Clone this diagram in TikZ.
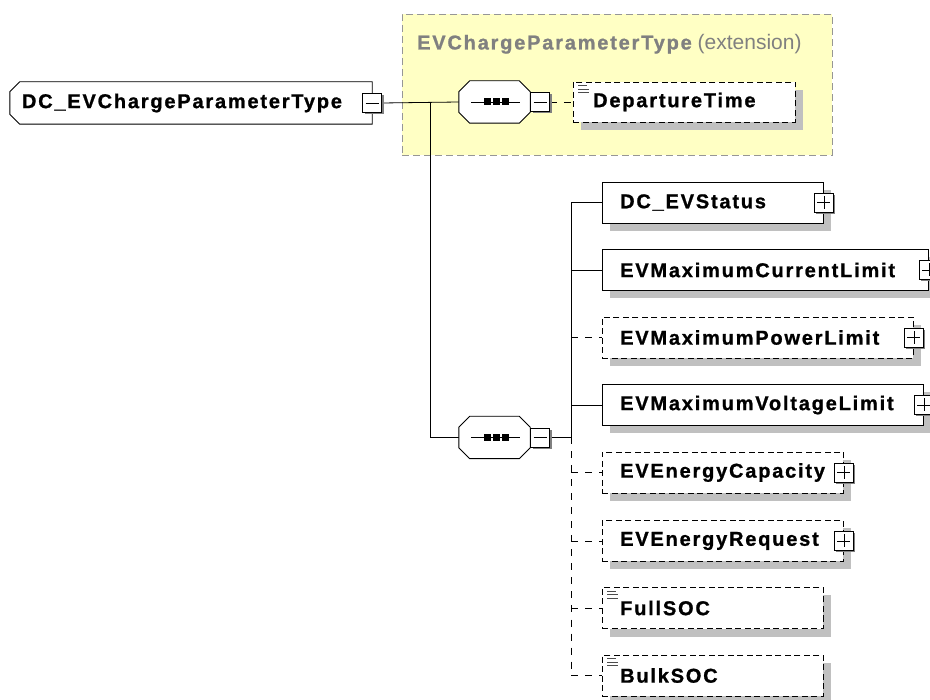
\documentclass[tikz,border=0pt]{standalone}
\usepackage{fontspec}
\setmainfont{Liberation Sans}
\newfontfamily\xsfont[LetterSpace=9, BoldFeatures={FakeBold=1}]{Liberation Sans}
\usetikzlibrary{shadows,calc}
\definecolor{shad}{RGB}{192,192,192}
\definecolor{extfill}{RGB}{255,255,196}
\definecolor{extdraw}{RGB}{150,150,150}
\definecolor{titlegray}{RGB}{128,128,128}
\pgfdeclarelayer{bg}
\pgfdeclarelayer{mid}
\pgfsetlayers{bg,mid,main}
\tikzset{
  shadowed/.style={drop shadow={shadow xshift=8pt, shadow yshift=-8pt, fill=shad, opacity=1}},
  elem/.style={draw, line width=0.9pt, fill=white, rectangle, minimum height=41pt, inner sep=0pt, anchor=west, shadowed},
  optelem/.style={elem, dash pattern=on 6pt off 3.5pt},
  pmbox/.style={draw, line width=0.7pt, fill=white, minimum size=19pt, inner sep=0pt,
     drop shadow={shadow xshift=2pt, shadow yshift=-2pt, fill=gray, opacity=1}},
  minusbox/.style={pmbox, path picture={\draw[line width=0.6pt] ([xshift=3pt]path picture bounding box.west) -- ([xshift=-3pt]path picture bounding box.east);}},
  plusbox/.style={pmbox, path picture={\draw[line width=0.6pt] ([xshift=3pt]path picture bounding box.west) -- ([xshift=-3pt]path picture bounding box.east);
     \draw[line width=0.6pt] ([yshift=-3pt]path picture bounding box.north) -- ([yshift=3pt]path picture bounding box.south);}},
  lbl/.style={font=\xsfont\bfseries\fontsize{20}{24}\selectfont, inner sep=0pt, anchor=west},
  anchorbox/.style={rectangle, draw=none, inner sep=0pt},
  outline/.style={draw, line width=0.9pt, fill=white},
  conn/.style={line width=0.8pt},
  optconn/.style={line width=0.8pt, dash pattern=on 7pt off 7pt},
}
\begin{document}
\begin{tikzpicture}[x=1pt,y=-1pt]
\useasboundingbox (0,0) rectangle (930,700);
\begin{pgfonlayer}{bg}
\fill[white] (0,0) rectangle (930,700);
\node[draw=extdraw, dash pattern=on 7pt off 4pt, line width=0.8pt, fill=extfill, minimum width=430pt, minimum height=141pt, inner sep=0pt] (ext) at (617,84.5) {};
\end{pgfonlayer}
\node[anchor=west, inner sep=0pt, text=titlegray] (title) at (417,44) {{\xsfont\bfseries\fontsize{20}{24}\selectfont EVChargeParameterType}{\fontsize{21}{25}\selectfont\ (extension)}};

% root (chamfered on the left)
\node[anchorbox, minimum width=362pt, minimum height=42pt] (root) at (191,103) {};
\fill[shad, shift={(8,8)}] ([xshift=10pt]root.north west) -- (root.north east) -- (root.south east) -- ([xshift=10pt]root.south west) -- ([yshift=10pt]root.south west) -- ([yshift=-10pt]root.north west) -- cycle;
\path[outline] ([xshift=10pt]root.north west) -- (root.north east) -- (root.south east) -- ([xshift=10pt]root.south west) -- ([yshift=10pt]root.south west) -- ([yshift=-10pt]root.north west) -- cycle;
\node[lbl] (roottxt) at ([xshift=12pt]root.west) {DC\_EVChargeParameterType};
\node[minusbox] (rootpm) at (root.east) {};

% sequences (octagons)
\node[anchorbox, minimum width=71pt, minimum height=42pt] (seq1) at (494.5,102) {};
\node[anchorbox, minimum width=71pt, minimum height=42pt] (seq2) at (494.5,437.5) {};
\foreach \s in {seq1,seq2}{
  \fill[shad, shift={(8,8)}] ([xshift=11pt]\s.north west) -- ([xshift=-11pt]\s.north east) -- ([yshift=-11pt]\s.north east) -- ([yshift=11pt]\s.south east) -- ([xshift=-11pt]\s.south east) -- ([xshift=11pt]\s.south west) -- ([yshift=11pt]\s.south west) -- ([yshift=-11pt]\s.north west) -- cycle;
  \path[outline] ([xshift=11pt]\s.north west) -- ([xshift=-11pt]\s.north east) -- ([yshift=-11pt]\s.north east) -- ([yshift=11pt]\s.south east) -- ([xshift=-11pt]\s.south east) -- ([xshift=11pt]\s.south west) -- ([yshift=11pt]\s.south west) -- ([yshift=-11pt]\s.north west) -- cycle;
  \draw[line width=0.8pt] ([xshift=-23.5pt]\s.center) -- ([xshift=25.5pt]\s.center);
  \foreach \dx in {-7.5,1.5,10.5}{
    \fill ([xshift=\dx pt]\s.center) ++(-3.5,-3.5) rectangle ++(7,7);
  }
}
\node[minusbox, anchor=west] (s1pm) at (seq1.east) {};
\node[minusbox, anchor=west] (s2pm) at (seq2.east) {};

% departure time
\node[optelem, minimum width=222pt, minimum height=40pt] (dep) at (573,102) {};
\node[lbl] (deptxt) at ([xshift=20pt]dep.west) {DepartureTime};

% children
\node[elem, minimum width=221pt] (status) at (602,202.5) {};
\node[plusbox] (statuspm) at (status.east) {};
\node[lbl] at ([xshift=18pt]status.west) {DC\_EVStatus};

\node[elem, minimum width=326pt] (curr) at (602,270) {};
\node[plusbox] (currpm) at (curr.east) {};
\node[lbl] at ([xshift=18pt]curr.west) {EVMaximumCurrentLimit};

\node[optelem, minimum width=311pt] (power) at (602,337.5) {};
\node[plusbox] (powerpm) at (power.east) {};
\node[lbl] at ([xshift=18pt]power.west) {EVMaximumPowerLimit};

\node[elem, minimum width=321pt] (volt) at (602,405) {};
\node[plusbox] (voltpm) at (volt.east) {};
\node[lbl] at ([xshift=18pt]volt.west) {EVMaximumVoltageLimit};

\node[optelem, minimum width=241pt] (cap) at (602,472.5) {};
\node[plusbox] (cappm) at (cap.east) {};
\node[lbl] at ([xshift=18pt]cap.west) {EVEnergyCapacity};

\node[optelem, minimum width=241pt] (req) at (602,541) {};
\node[plusbox] (reqpm) at (req.east) {};
\node[lbl] at ([xshift=18pt]req.west) {EVEnergyRequest};

\node[optelem, minimum width=221pt] (full) at (602,608) {};
\node[lbl] at ([xshift=18pt]full.west) {FullSOC};

\node[optelem, minimum width=221pt] (bulk) at (602,675.5) {};
\node[lbl] at ([xshift=18pt]bulk.west) {BulkSOC};

% list icons
\foreach \n in {dep,full,bulk}{
  \draw[line width=0.6pt, black!70] ([shift={(5,4)}]\n.north west) -- ++(9,0);
  \draw[line width=0.6pt, black!70] ([shift={(5,7.5)}]\n.north west) -- ++(11,0);
  \draw[line width=0.6pt, black!70] ([shift={(5,11)}]\n.north west) -- ++(11,0);
}

% connectors
\coordinate (br) at (430,103);
\coordinate (sp) at (571,437.5);
\begin{pgfonlayer}{mid}
\draw[conn] (rootpm.east) -- (seq1.west);
\draw[conn] (br) |- (seq2.west);
\draw[optconn] (s1pm.east) -- (dep.west);
\draw[conn] (s2pm.east) -- (sp);
\draw[conn] (sp) |- (status.west);
\draw[conn] (sp |- curr.west) -- (curr.west);
\draw[optconn] (sp |- power.west) -- (power.west);
\draw[conn] (sp |- volt.west) -- (volt.west);
\draw[optconn] (sp) |- (bulk.west);
\draw[optconn] (sp |- cap.west) -- (cap.west);
\draw[optconn] (sp |- req.west) -- (req.west);
\draw[optconn] (sp |- full.west) -- (full.west);
\end{pgfonlayer}
\end{tikzpicture}
\end{document}
